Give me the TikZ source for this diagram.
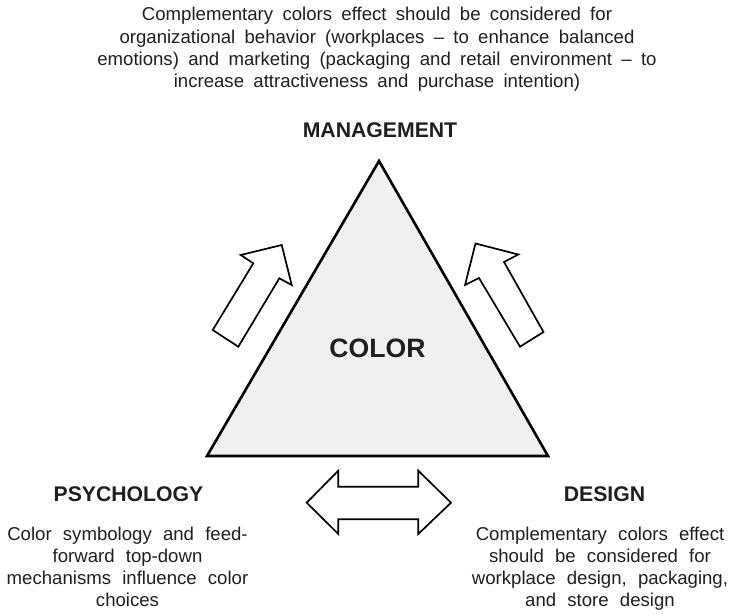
\documentclass[tikz,border=0pt]{standalone}
\usepackage{fontspec}
\setmainfont{Liberation Sans}
% interword spacing used by the captions
\newcommand\capwide{\spaceskip=11.2bp plus 2bp minus 1bp\relax}
\newcommand\capmid{\spaceskip=9.3bp plus 2bp minus 1bp\relax}
\begin{document}
\begin{tikzpicture}[x=1bp,y=-1bp,
  ink/.style={black!88},
  bodytext/.style={ink, inner sep=0pt, anchor=base, align=center,
    font=\fontsize{18.67}{22.3}\selectfont\capwide},
  topbody/.style={bodytext,
    font=\fontsize{18.67}{22.3}\selectfont\capmid},
  headtext/.style={ink, inner sep=0pt, anchor=base,
    font=\fontsize{21.3}{24}\selectfont\bfseries},
  blockarrow/.style={draw=black, line width=1.7bp, line join=miter, fill=white},
  apexshape/.style={draw=black, line width=2.6bp, line join=miter, fill=black!6}]
\useasboundingbox (0,0) rectangle (732,614);

% the colour triangle
\coordinate (apex) at (379,161);
\coordinate (bl) at (207,456);
\coordinate (br) at (548,456);
\draw[apexshape] (apex) -- (bl) -- (br) -- cycle;
\node[ink, inner sep=0pt, font=\fontsize{26.7}{30}\selectfont\bfseries] (color) at (377.5,348) {COLOR};

% block arrow on the left side, pointing up to management
\draw[blockarrow] (212.7,330) -- (238.3,346.7) -- (279.3,278.3) -- (291.7,285)
  -- (281.7,245) -- (240.7,255) -- (253.3,263.3) -- cycle;
% block arrow on the right side, pointing up to management
\draw[blockarrow] (520,346.7) -- (543.5,332) -- (504,262) -- (518.3,254.5)
  -- (475.5,243.5) -- (465,285) -- (479,278) -- cycle;
% double-headed arrow between psychology and design
\draw[blockarrow] (306.7,502.7) -- (338.3,470.7) -- (338.3,486.7) -- (418.3,486.7)
  -- (418.3,470.7) -- (451,502.7) -- (418.3,534) -- (418.3,519.3)
  -- (338.3,519.3) -- (338.3,534) -- cycle;

% top: management (node base = baseline of the last line)
\node[topbody] (topnote) at (377,87.5)
  {Complementary colors effect should be considered for\\
organizational behavior (workplaces – to enhance balanced\\
emotions) and marketing (packaging and retail environment – to\\
increase attractiveness and purchase intention)};
\node[headtext] (mgmt) at (380,137.3) {MANAGEMENT};

% bottom left: psychology
\node[headtext] (psych) at (128.5,501.7) {PSYCHOLOGY};
\node[bodytext] (psychnote) at (127.5,606.8) {Color symbology and feed-\\
forward top-down\\
mechanisms influence color\\
choices};

% bottom right: design
\node[headtext] (design) at (604.5,501.7) {DESIGN};
\node[bodytext] (designnote) at (600,606.8) {Complementary colors effect\\
should be considered for\\
workplace design, packaging,\\
and store design};
\end{tikzpicture}
\end{document}
